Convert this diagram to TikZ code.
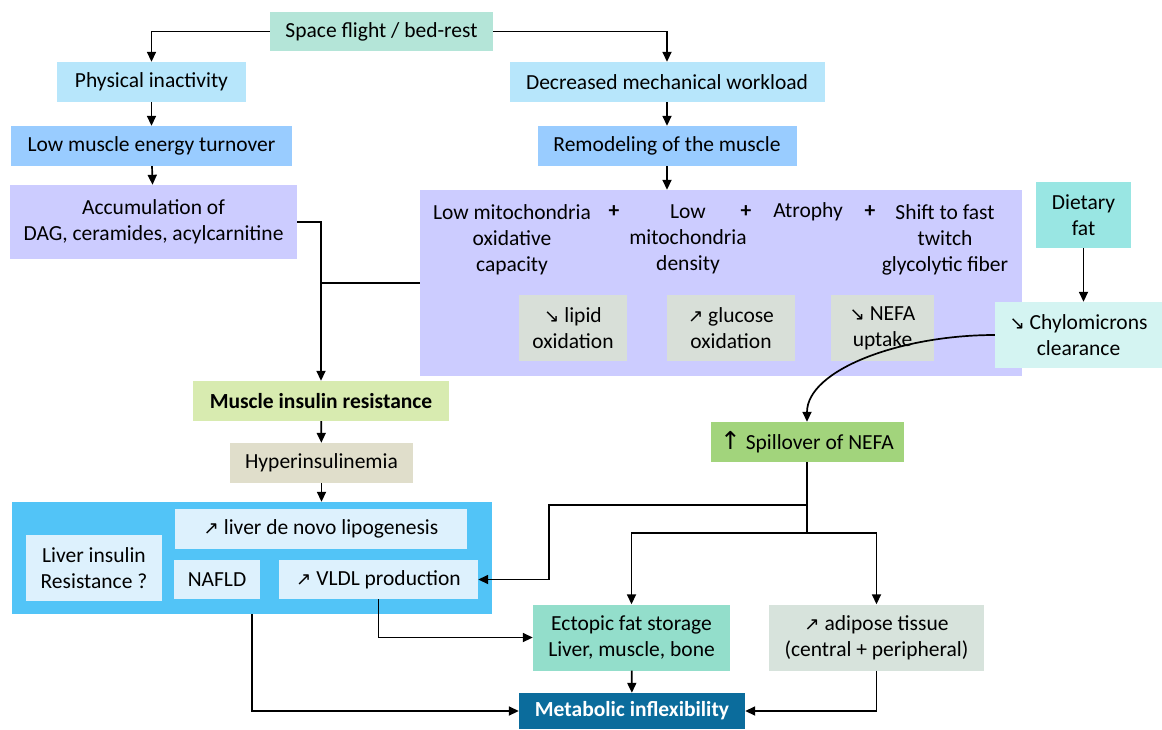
\documentclass[tikz,border=0pt]{standalone}
\usepackage{fontspec}
\setmainfont{Carlito}
\newfontfamily\symfont[Scale=0.85]{DejaVu Sans}
\newfontfamily\bigsym[Scale=1.15]{DejaVu Sans}
\usetikzlibrary{arrows.meta}
\definecolor{cspace}{HTML}{B4E5D8}
\definecolor{cpale}{HTML}{B7E6FB}
\definecolor{cblue}{HTML}{99CCFF}
\definecolor{clav}{HTML}{CCCCFF}
\definecolor{cgrey}{HTML}{D8DFD8}
\definecolor{cdiet}{HTML}{99E6E3}
\definecolor{cchylo}{HTML}{D4F4F2}
\definecolor{cmir}{HTML}{D8EBB0}
\definecolor{chyper}{HTML}{E0DECB}
\definecolor{cliver}{HTML}{52C4F7}
\definecolor{cliverin}{HTML}{DDF1FD}
\definecolor{cspill}{HTML}{A2D47C}
\definecolor{cecto}{HTML}{93DECB}
\definecolor{cadip}{HTML}{D7E3DC}
\definecolor{cmeta}{HTML}{0B6C9C}
\newcommand\fsz{\fontsize{21.5}{26}\selectfont}
\newcommand\arrne{{\symfont ↗}}
\newcommand\arrse{{\symfont ↘}}
\newcommand\arrnn{{\bigsym ↑}}
\begin{document}
\begin{tikzpicture}[x=1pt, y=-1pt, font=\fsz,
    box/.style={rectangle, inner sep=0pt, align=center},
    arr/.style={line width=1.7pt, -{Triangle[length=10pt,width=9pt]}},
    ln/.style={line width=1.7pt}]
\useasboundingbox (0,0) rectangle (1162,729);

\node[box, fill=cspace, minimum width=223pt, minimum height=39pt] (space) at (381.5,31.5) {Space flight / bed-rest};
\node[box, fill=cpale, minimum width=189pt, minimum height=40pt] (inact) at (151.5,82) {Physical inactivity};
\node[box, fill=cblue, minimum width=281pt, minimum height=40pt] (turn) at (151.5,146) {Low muscle energy turnover};
\node[box, fill=clav, minimum width=287pt, minimum height=74pt] (accum) at (153.5,222) {Accumulation of\\DAG, ceramides, acylcarnitine};
\node[box, fill=cpale, minimum width=315pt, minimum height=40pt] (work) at (667,82) {Decreased mechanical workload};
\node[box, fill=cblue, minimum width=259pt, minimum height=40pt] (remod) at (667,146) {Remodeling of the muscle};

\node[box, fill=clav, minimum width=602pt, minimum height=186pt] (muscle) at (721,283) {};
\node[box, anchor=north] (mito) at (512,204) {Low mitochondria\\oxidative\\capacity};
\node[box, font=\fsz\bfseries] (plusa) at (614,212) {+};
\node[box, anchor=north] (dens) at (688,204) {Low\\mitochondria\\density};
\node[box, font=\fsz\bfseries] (plusb) at (746,212) {+};
\node[box] (atro) at (808,212) {Atrophy};
\node[box, font=\fsz\bfseries] (plusc) at (870,212) {+};
\node[box, anchor=north] (shift) at (945,204) {Shift to fast\\twitch\\glycolytic fiber};
\node[box, fill=cgrey, minimum width=108pt, minimum height=66pt] (lipid) at (573,328) {\arrse{} lipid\\oxidation};
\node[box, fill=cgrey, minimum width=128pt, minimum height=66pt] (gluc) at (731,328) {\arrne{} glucose\\oxidation};
\node[box, fill=cgrey, minimum width=103pt, minimum height=66pt] (nefa) at (882.5,328) {\arrse{} NEFA\\uptake};

\node[box, fill=cdiet, minimum width=95pt, minimum height=66pt] (diet) at (1083.5,215) {Dietary\\fat};
\node[box, fill=cchylo, minimum width=167pt, minimum height=66pt] (chylo) at (1078.5,335) {\arrse{} Chylomicrons\\clearance};

\node[box, fill=cmir, minimum width=256pt, minimum height=40pt, font=\fsz\bfseries] (mir) at (321,401) {Muscle insulin resistance};
\node[box, fill=chyper, minimum width=183pt, minimum height=40pt] (hyper) at (321.5,463) {Hyperinsulinemia};

\node[box, fill=cliver, minimum width=480pt, minimum height=112pt] (liver) at (252,558) {};
\node[box, fill=cliverin, minimum width=292pt, minimum height=40pt] (lipo) at (321,529) {\arrne{} liver de novo lipogenesis};
\node[box, fill=cliverin, minimum width=136pt, minimum height=66pt] (liverir) at (94,568) {Liver insulin\\Resistance ?};
\node[box, fill=cliverin, minimum width=86pt, minimum height=39pt] (nafld) at (217,579.5) {NAFLD};
\node[box, fill=cliverin, minimum width=199pt, minimum height=39pt] (vldl) at (378.5,579.5) {\arrne{} VLDL production};

\node[box, fill=cspill, minimum width=193pt, minimum height=40pt] (spill) at (807,442) {\arrnn{} Spillover of NEFA};
\node[box, fill=cecto, minimum width=197pt, minimum height=66pt] (ecto) at (631.5,637.5) {Ectopic fat storage\\Liver, muscle, bone};
\node[box, fill=cadip, minimum width=215pt, minimum height=66pt] (adip) at (876.5,637.5) {\arrne{} adipose tissue\\(central + peripheral)};
\node[box, fill=cmeta, text=white, minimum width=226pt, minimum height=36pt, font=\fsz\bfseries] (meta) at (632,711) {Metabolic inflexibility};

\coordinate (j1) at (807,505);
\coordinate (j2) at (807,533);
\coordinate (k1) at (549,505);

\draw[arr] (space.west) -| (inact.north);
\draw[arr] (space.east) -| (work.north);
\draw[arr] (inact) -- (turn);
\draw[arr] (turn) -- (accum);
\draw[arr] (work) -- (remod);
\draw[arr] (remod.south) -- (remod.south |- muscle.north);
\draw[arr] (accum.east) -| (mir.north);
\draw[ln] (muscle.west) -- (muscle.west -| mir.north);
\draw[arr] (mir) -- (hyper);
\draw[arr] (hyper.south) -- (hyper.south |- liver.north);
\draw[arr] (diet.south) -- (diet.south |- chylo.north);
\draw[arr] (chylo.west) .. controls (900,335) and (807,370) .. (spill.north);
\draw[ln] (spill.south) -- (j2);
\draw[arr] (j1) -- (k1) |- (vldl.east);
\draw[arr] (j2) -| (ecto.north);
\draw[arr] (j2) -| (adip.north);
\draw[arr] (vldl.south) |- (ecto.west);
\draw[arr] (liver.south) |- (meta.west);
\draw[arr] (ecto) -- (meta);
\draw[arr] (adip.south) |- (meta.east);
\end{tikzpicture}
\end{document}
